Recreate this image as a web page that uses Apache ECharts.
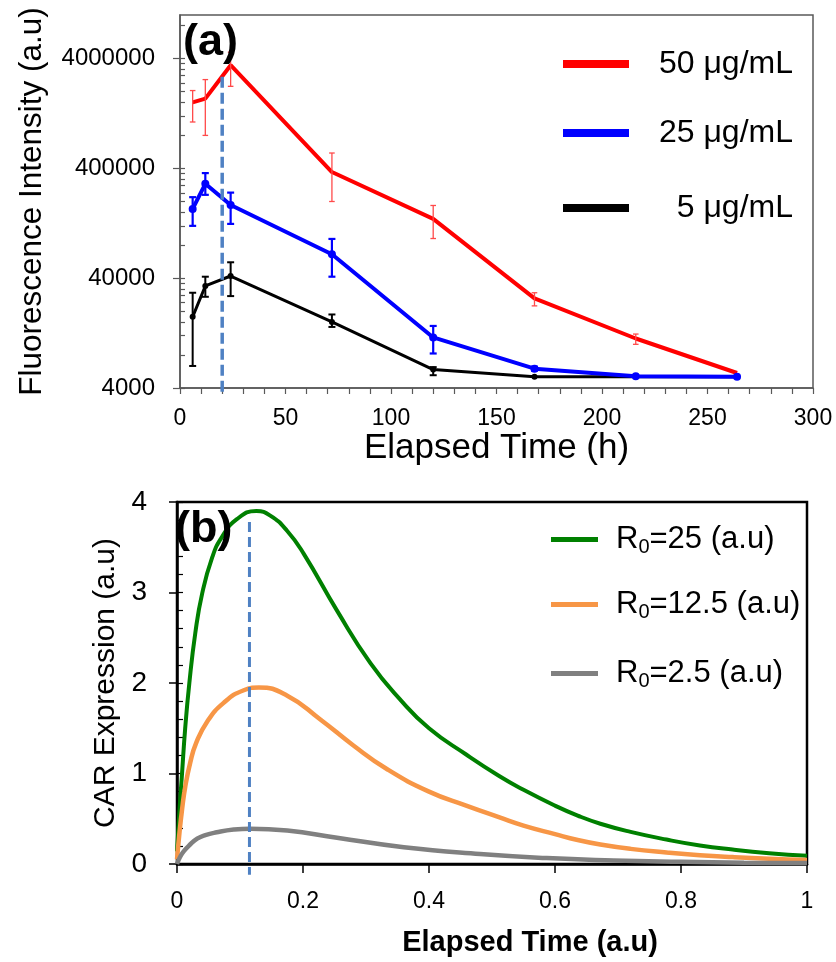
<!DOCTYPE html>
<html><head><meta charset="utf-8">
<script src="https://cdn.jsdelivr.net/npm/echarts@6/dist/echarts.min.js"></script>
<style>html,body{margin:0;padding:0;background:#fff}#c{width:836px;height:962px}</style>
</head><body><div id="c"></div>
<script>
const FONT = '"Liberation Sans", Arial, Helvetica, sans-serif';

// ---------- Panel (a) data ----------
const timesA = [6, 12, 24, 72, 120, 168, 216, 264];
const red50 = [1600000, 1730000, 3490000, 371000, 139000, 26200, 11300, 5480];
const red50Low = [1060000, 800000, 2240000, 200000, 92000, 22400, 10000, null];
const red50High = [2050000, 2580000, 4580000, 553000, 184000, 29500, 12400, null];
const blue25 = [171000, 290000, 186000, 66100, 11550, 6000, 5110, 5070];
const blue25Low = [120000, 230000, 125000, 41300, 8250, 5750, null, null];
const blue25High = [219000, 363000, 241000, 91200, 14700, 6250, null, null];
const black5 = [17800, 34000, 41900, 16000, 5890, 5070, 5070, 5070];
const black5Low = [6350, 27100, 27500, 14400, 5230, null, null, null];
const black5High = [29500, 41300, 55900, 18700, 6200, null, null, null];
const markerTimeA = [20, 20];
const markerValA = [3700, 2870000];
const yTickLabelsA = [4000, 40000, 400000, 4000000];
const yMinorTicksA = [8000, 12000, 16000, 20000, 24000, 28000, 32000, 36000,
  80000, 120000, 160000, 200000, 240000, 280000, 320000, 360000,
  800000, 1200000, 1600000, 2000000, 2400000, 2800000, 3200000, 3600000,
  8000000];
const namesA = ['50 μg/mL', '25 μg/mL', '5 μg/mL'];

// ---------- Panel (b) data ----------
const greenT = [0, 0.004, 0.008, 0.013, 0.0196, 0.029, 0.04, 0.056, 0.071, 0.095, 0.126, 0.148, 0.175, 0.201, 0.254, 0.307, 0.354, 0.4, 0.459, 0.512, 0.55, 0.6, 0.636, 0.672, 0.72, 0.777, 0.83, 0.882, 0.94, 1.0];
const greenV = [0.14, 0.6, 1.0, 1.5, 2.0, 2.55, 2.99, 3.39, 3.61, 3.81, 3.90, 3.85, 3.68, 3.43, 2.80, 2.22, 1.82, 1.50, 1.21, 0.97, 0.82, 0.645, 0.535, 0.445, 0.355, 0.27, 0.205, 0.16, 0.12, 0.09];
const orangeT = [0, 0.004, 0.008, 0.013, 0.021, 0.03, 0.0476, 0.074, 0.106, 0.13, 0.175, 0.227, 0.28, 0.333, 0.4, 0.459, 0.512, 0.55, 0.6, 0.636, 0.672, 0.72, 0.777, 0.83, 0.882, 0.94, 1.0];
const orangeV = [0.05, 0.35, 0.6, 0.85, 1.12, 1.33, 1.57, 1.78, 1.92, 1.95, 1.86, 1.6, 1.31, 1.05, 0.80, 0.645, 0.515, 0.425, 0.33, 0.265, 0.215, 0.167, 0.127, 0.097, 0.076, 0.058, 0.045];
const grayT = [0, 0.005, 0.0106, 0.02, 0.032, 0.045, 0.063, 0.09, 0.116, 0.175, 0.254, 0.36, 0.481, 0.587, 0.693, 0.8, 0.9, 1.0];
const grayV = [0, 0.08, 0.14, 0.21, 0.28, 0.32, 0.35, 0.38, 0.39, 0.37, 0.29, 0.185, 0.11, 0.065, 0.04, 0.025, 0.015, 0.01];
const markerTimeB = [0.115, 0.115];
const markerValB = [3.78, -0.12];
const namesB = ['R₀=25 (a.u)', 'R₀=12.5 (a.u)', 'R₀=2.5 (a.u)'];

const zip = (a, b) => a.map((v, i) => [v, b[i]]);
const errData = (t, lo, hi) => t.map((v, i) => [v, lo[i], hi[i]]).filter(d => d[1] != null);

function errorBars(color, width, cap) {
  return function (params, api) {
    const x = api.value(0), lo = api.value(1), hi = api.value(2);
    const top = api.coord([x, hi]);
    const bot = api.coord([x, lo]);
    const st = () => ({ stroke: color, lineWidth: width });
    return {
      type: 'group', children: [
        { type: 'line', shape: { x1: top[0], y1: top[1], x2: bot[0], y2: bot[1] }, style: st() },
        { type: 'line', shape: { x1: top[0] - cap, y1: top[1], x2: top[0] + cap, y2: top[1] }, style: st() },
        { type: 'line', shape: { x1: bot[0] - cap, y1: bot[1], x2: bot[0] + cap, y2: bot[1] }, style: st() }
      ]
    };
  };
}

const grayAx = '#595959';
const chart = echarts.init(document.getElementById('c'), null, { renderer: 'canvas' });

function legendA(name, top) {
  return {
    data: [name], left: 563, top: top, padding: 0, icon: 'rect',
    itemWidth: 66, itemHeight: 8,
    formatter: n => '{t|' + n + '}',
    textStyle: { rich: { t: { fontSize: 32, fontFamily: FONT, color: '#000', width: 159, align: 'right', lineHeight: 36 } } }
  };
}
function legendB(name, top) {
  return {
    data: [name], left: 551, top: top, padding: 0, icon: 'rect',
    itemWidth: 47, itemHeight: 5,
    formatter: n => '{a|R}{s|0}{r|' + n.slice(2) + '}',
    textStyle: {
      rich: {
        a: { fontSize: 31, fontFamily: FONT, color: '#000', lineHeight: 36, padding: [0, 0, 0, 13] },
        s: { fontSize: 20, fontFamily: FONT, color: '#000', lineHeight: 14, verticalAlign: 'bottom' },
        r: { fontSize: 31, fontFamily: FONT, color: '#000', lineHeight: 36 }
      }
    }
  };
}

const option = {
  backgroundColor: '#fff',
  animation: false,
  textStyle: { fontFamily: FONT },
  title: [
    { text: '(a)', left: 183, top: 19, padding: 0, textStyle: { fontSize: 45, fontWeight: 'bold', color: '#000', fontFamily: FONT, lineHeight: 48 } },
    { text: '(b)', left: 175, top: 506, padding: 0, textStyle: { fontSize: 45, fontWeight: 'bold', color: '#000', fontFamily: FONT, lineHeight: 48 } }
  ],
  legend: [
    legendA(namesA[0], 48), legendA(namesA[1], 117), legendA(namesA[2], 192),
    legendB(namesB[0], 524), legendB(namesB[1], 589), legendB(namesB[2], 658)
  ],
  grid: [
    { left: 180, right: 23, top: 15, bottom: 574, show: true, borderColor: grayAx, borderWidth: 1.5, backgroundColor: 'transparent' },
    { left: 177, right: 29, top: 502, bottom: 98, show: true, borderColor: '#000', borderWidth: 2.5, backgroundColor: 'transparent' }
  ],
  xAxis: [
    {
      gridIndex: 0, type: 'value', min: 0, max: 300, interval: 50,
      axisLine: { lineStyle: { color: grayAx, width: 1.5 } },
      axisTick: { length: 6, lineStyle: { color: grayAx, width: 1.2 } },
      minorTick: { show: true, splitNumber: 5, length: 6, lineStyle: { color: grayAx, width: 1.2 } },
      splitLine: { show: false }, minorSplitLine: { show: false },
      axisLabel: { fontSize: 23, color: '#000', margin: 19, fontFamily: FONT },
      name: 'Elapsed Time (h)', nameLocation: 'middle', nameGap: 31,
      nameTextStyle: { fontSize: 35, color: '#000', fontFamily: FONT }
    },
    {
      gridIndex: 1, type: 'value', min: 0, max: 1, interval: 0.2,
      axisLine: { lineStyle: { color: '#000', width: 2.5 } },
      axisTick: { length: 9, lineStyle: { color: '#000', width: 1.5 } },
      splitLine: { show: false },
      axisLabel: { fontSize: 23, color: '#000', margin: 26, fontFamily: FONT },
      name: 'Elapsed Time (a.u)', nameLocation: 'middle', nameGap: 64,
      nameTextStyle: { fontSize: 29, fontWeight: 'bold', color: '#000', fontFamily: FONT, padding: [0, 0, 0, 76] }
    }
  ],
  yAxis: [
    {
      gridIndex: 0, type: 'log', logBase: 10, min: 4000, max: 10000000, position: 'left',
      axisLine: { show: true, lineStyle: { color: grayAx, width: 1.5 } },
      axisTick: { show: true, length: 7, customValues: yTickLabelsA, lineStyle: { color: grayAx, width: 1.2 } },
      axisLabel: { show: true, customValues: yTickLabelsA, fontSize: 24, color: '#000', margin: 25, fontFamily: FONT,
        formatter: v => String(Math.round(v)) },
      splitLine: { show: false }, minorTick: { show: false },
      name: 'Fluorescence Intensity (a.u)', nameLocation: 'middle', nameGap: 132,
      nameTextStyle: { fontSize: 31.5, color: '#000', fontFamily: FONT }
    },
    {
      gridIndex: 0, type: 'log', logBase: 10, min: 4000, max: 10000000, position: 'left',
      axisLine: { show: false },
      axisTick: { show: true, inside: true, length: 5, customValues: yTickLabelsA.concat(yMinorTicksA), lineStyle: { color: grayAx, width: 1.2 } },
      axisLabel: { show: false },
      splitLine: { show: false }
    },
    {
      gridIndex: 1, type: 'value', min: 0, max: 4, interval: 1, position: 'left',
      axisLine: { show: true, lineStyle: { color: '#000', width: 2.5 } },
      axisTick: { show: true, length: 8, lineStyle: { color: '#000', width: 1.5 } },
      axisLabel: { fontSize: 28, color: '#000', margin: 30, fontFamily: FONT },
      splitLine: { show: false },
      name: 'CAR Expression (a.u)', nameLocation: 'middle', nameGap: 52,
      nameTextStyle: { fontSize: 30, color: '#000', fontFamily: FONT }
    },
    {
      gridIndex: 1, type: 'value', min: 0, max: 4, interval: 0.2, position: 'left',
      axisLine: { show: false },
      axisTick: { show: true, inside: true, length: 6, lineStyle: { color: '#000', width: 1.2 } },
      axisLabel: { show: false },
      splitLine: { show: false }
    }
  ],
  series: [
    { name: namesA[0], type: 'line', xAxisIndex: 0, yAxisIndex: 0, data: zip(timesA, red50), color: '#ff0000',
      lineStyle: { width: 4, color: '#ff0000' }, symbol: 'none', z: 3 },
    { type: 'custom', xAxisIndex: 0, yAxisIndex: 0, data: errData(timesA, red50Low, red50High),
      encode: { x: 0, y: [1, 2] }, renderItem: errorBars('#ff4a4a', 1.3, 2.8), z: 4 },
    { name: namesA[2], type: 'line', xAxisIndex: 0, yAxisIndex: 0, data: zip(timesA, black5), color: '#000000',
      lineStyle: { width: 3, color: '#000000' }, symbol: 'circle', symbolSize: 6, itemStyle: { color: '#000' }, z: 3 },
    { type: 'custom', xAxisIndex: 0, yAxisIndex: 0, data: errData(timesA, black5Low, black5High),
      encode: { x: 0, y: [1, 2] }, renderItem: errorBars('#000000', 2, 3.5), z: 4 },
    { name: namesA[1], type: 'line', xAxisIndex: 0, yAxisIndex: 0, data: zip(timesA, blue25), color: '#0000ff',
      lineStyle: { width: 4, color: '#0000ff' }, symbol: 'circle', symbolSize: 8, itemStyle: { color: '#0000ff' }, z: 3 },
    { type: 'custom', xAxisIndex: 0, yAxisIndex: 0, data: errData(timesA, blue25Low, blue25High),
      encode: { x: 0, y: [1, 2] }, renderItem: errorBars('#0000ff', 2.2, 3.5), z: 4 },
    { type: 'line', xAxisIndex: 0, yAxisIndex: 0, data: zip(markerTimeA, markerValA), clip: false,
      lineStyle: { width: 3.5, color: '#4f81c3', type: [11, 5] }, symbol: 'none', z: 5 },

    { name: namesB[0], type: 'line', xAxisIndex: 1, yAxisIndex: 2, data: zip(greenT, greenV), smooth: 0.5, color: '#008000',
      lineStyle: { width: 4, color: '#008000' }, symbol: 'none', z: 3 },
    { name: namesB[1], type: 'line', xAxisIndex: 1, yAxisIndex: 2, data: zip(orangeT, orangeV), smooth: 0.5, color: '#f79646',
      lineStyle: { width: 4.5, color: '#f79646' }, symbol: 'none', z: 3 },
    { name: namesB[2], type: 'line', xAxisIndex: 1, yAxisIndex: 2, data: zip(grayT, grayV), smooth: 0.5, color: '#808080',
      lineStyle: { width: 4.5, color: '#808080' }, symbol: 'none', z: 3 },
    { type: 'line', xAxisIndex: 1, yAxisIndex: 2, data: zip(markerTimeB, markerValB), clip: false,
      lineStyle: { width: 3, color: '#4f81c3', type: [10, 5] }, symbol: 'none', z: 5 }
  ]
};
chart.setOption(option);
</script>
</body></html>
